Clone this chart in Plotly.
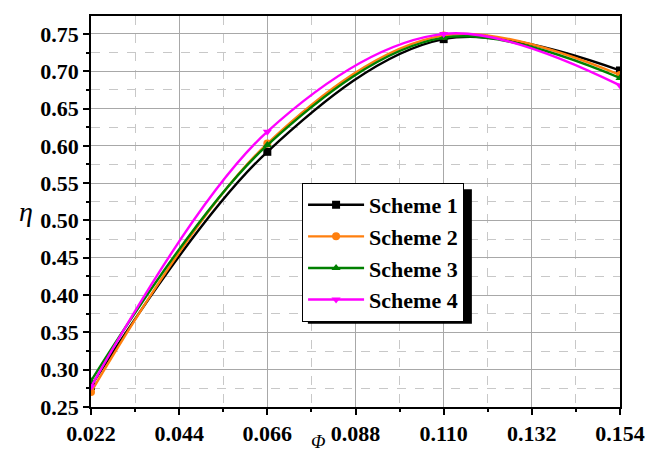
import plotly.graph_objects as go

phi = [0.022, 0.066, 0.110, 0.154]
scheme1 = [0.278, 0.592, 0.743, 0.701]
scheme2 = [0.270, 0.603, 0.748, 0.695]
scheme3 = [0.285, 0.601, 0.745, 0.691]
scheme4 = [0.277, 0.619, 0.750, 0.681]

names = ["Scheme 1", "Scheme 2", "Scheme 3", "Scheme 4"]
series = [scheme1, scheme2, scheme3, scheme4]
colors = ["#000000", "#ff7f0e", "#008000", "#ff00ff"]
symbols = ["square", "circle", "triangle-up", "triangle-down"]

xticks = [0.022, 0.044, 0.066, 0.088, 0.110, 0.132, 0.154]
yticks = [0.25, 0.30, 0.35, 0.40, 0.45, 0.50, 0.55, 0.60, 0.65, 0.70, 0.75]

fig = go.Figure()
for n, s, c, m in zip(names, series, colors, symbols):
    fig.add_trace(go.Scatter(
        x=phi, y=s, name=n, mode="lines+markers",
        line=dict(color=c, width=2.4, shape="spline", smoothing=1.0),
        marker=dict(symbol=m, size=8, color=c),
    ))

serif = "Liberation Serif"
fig.update_layout(
    width=649, height=452,
    margin=dict(l=91, r=29, t=16, b=45, autoexpand=False),
    plot_bgcolor="white", paper_bgcolor="white",
    font=dict(family=serif, color="black"),
    showlegend=True,
    legend=dict(
        x=0.399, y=0.573, xanchor="left", yanchor="top",
        bgcolor="white", bordercolor="black", borderwidth=1,
        itemwidth=56,
        font=dict(family=serif, size=22, color="black", weight="bold"),
    ),
)
fig.update_xaxes(
    range=[0.022, 0.154], tickvals=xticks, automargin=False,
    ticktext=["%.3f" % v for v in xticks],
    tickfont=dict(family=serif, size=22, weight="bold"),
    showline=True, linecolor="black", linewidth=1.5, mirror=True,
    ticks="outside", ticklen=6, tickcolor="black", tickwidth=1.5,
    showgrid=True, gridcolor="#a8a8a8", gridwidth=1,
    zeroline=False,
    minor=dict(dtick=0.011, tick0=0.022, ticks="outside", ticklen=3, tickcolor="black",
               showgrid=True, gridcolor="#c8c8c8", griddash="dash", gridwidth=1),
)
fig.update_yaxes(
    range=[0.25, 0.774], tickvals=yticks, automargin=False,
    ticktext=["%.2f" % v for v in yticks],
    tickfont=dict(family=serif, size=22, weight="bold"),
    showline=True, linecolor="black", linewidth=1.5, mirror=True,
    ticks="outside", ticklen=6, tickcolor="black", tickwidth=1.5,
    showgrid=True, gridcolor="#a8a8a8", gridwidth=1,
    zeroline=False,
    minor=dict(dtick=0.025, tick0=0.25, ticks="outside", ticklen=3, tickcolor="black",
               showgrid=True, gridcolor="#c8c8c8", griddash="dash", gridwidth=1),
)

# legend drop shadow
fig.add_shape(type="rect", xref="paper", yref="paper",
              x0=0.41, x1=0.72, y0=0.213, y1=0.557,
              fillcolor="black", line=dict(width=0), layer="above")

fig.add_annotation(text="<i>η</i>", xref="paper", yref="paper",
                   x=-0.14, y=0.5, showarrow=False,
                   font=dict(family=serif, size=28, color="black"))
fig.add_annotation(text="<i>Φ</i>", xref="paper", yref="paper",
                   x=0.43, y=-0.055, yanchor="top", showarrow=False,
                   font=dict(family=serif, size=19, color="black"))

fig.write_html("out.html")
